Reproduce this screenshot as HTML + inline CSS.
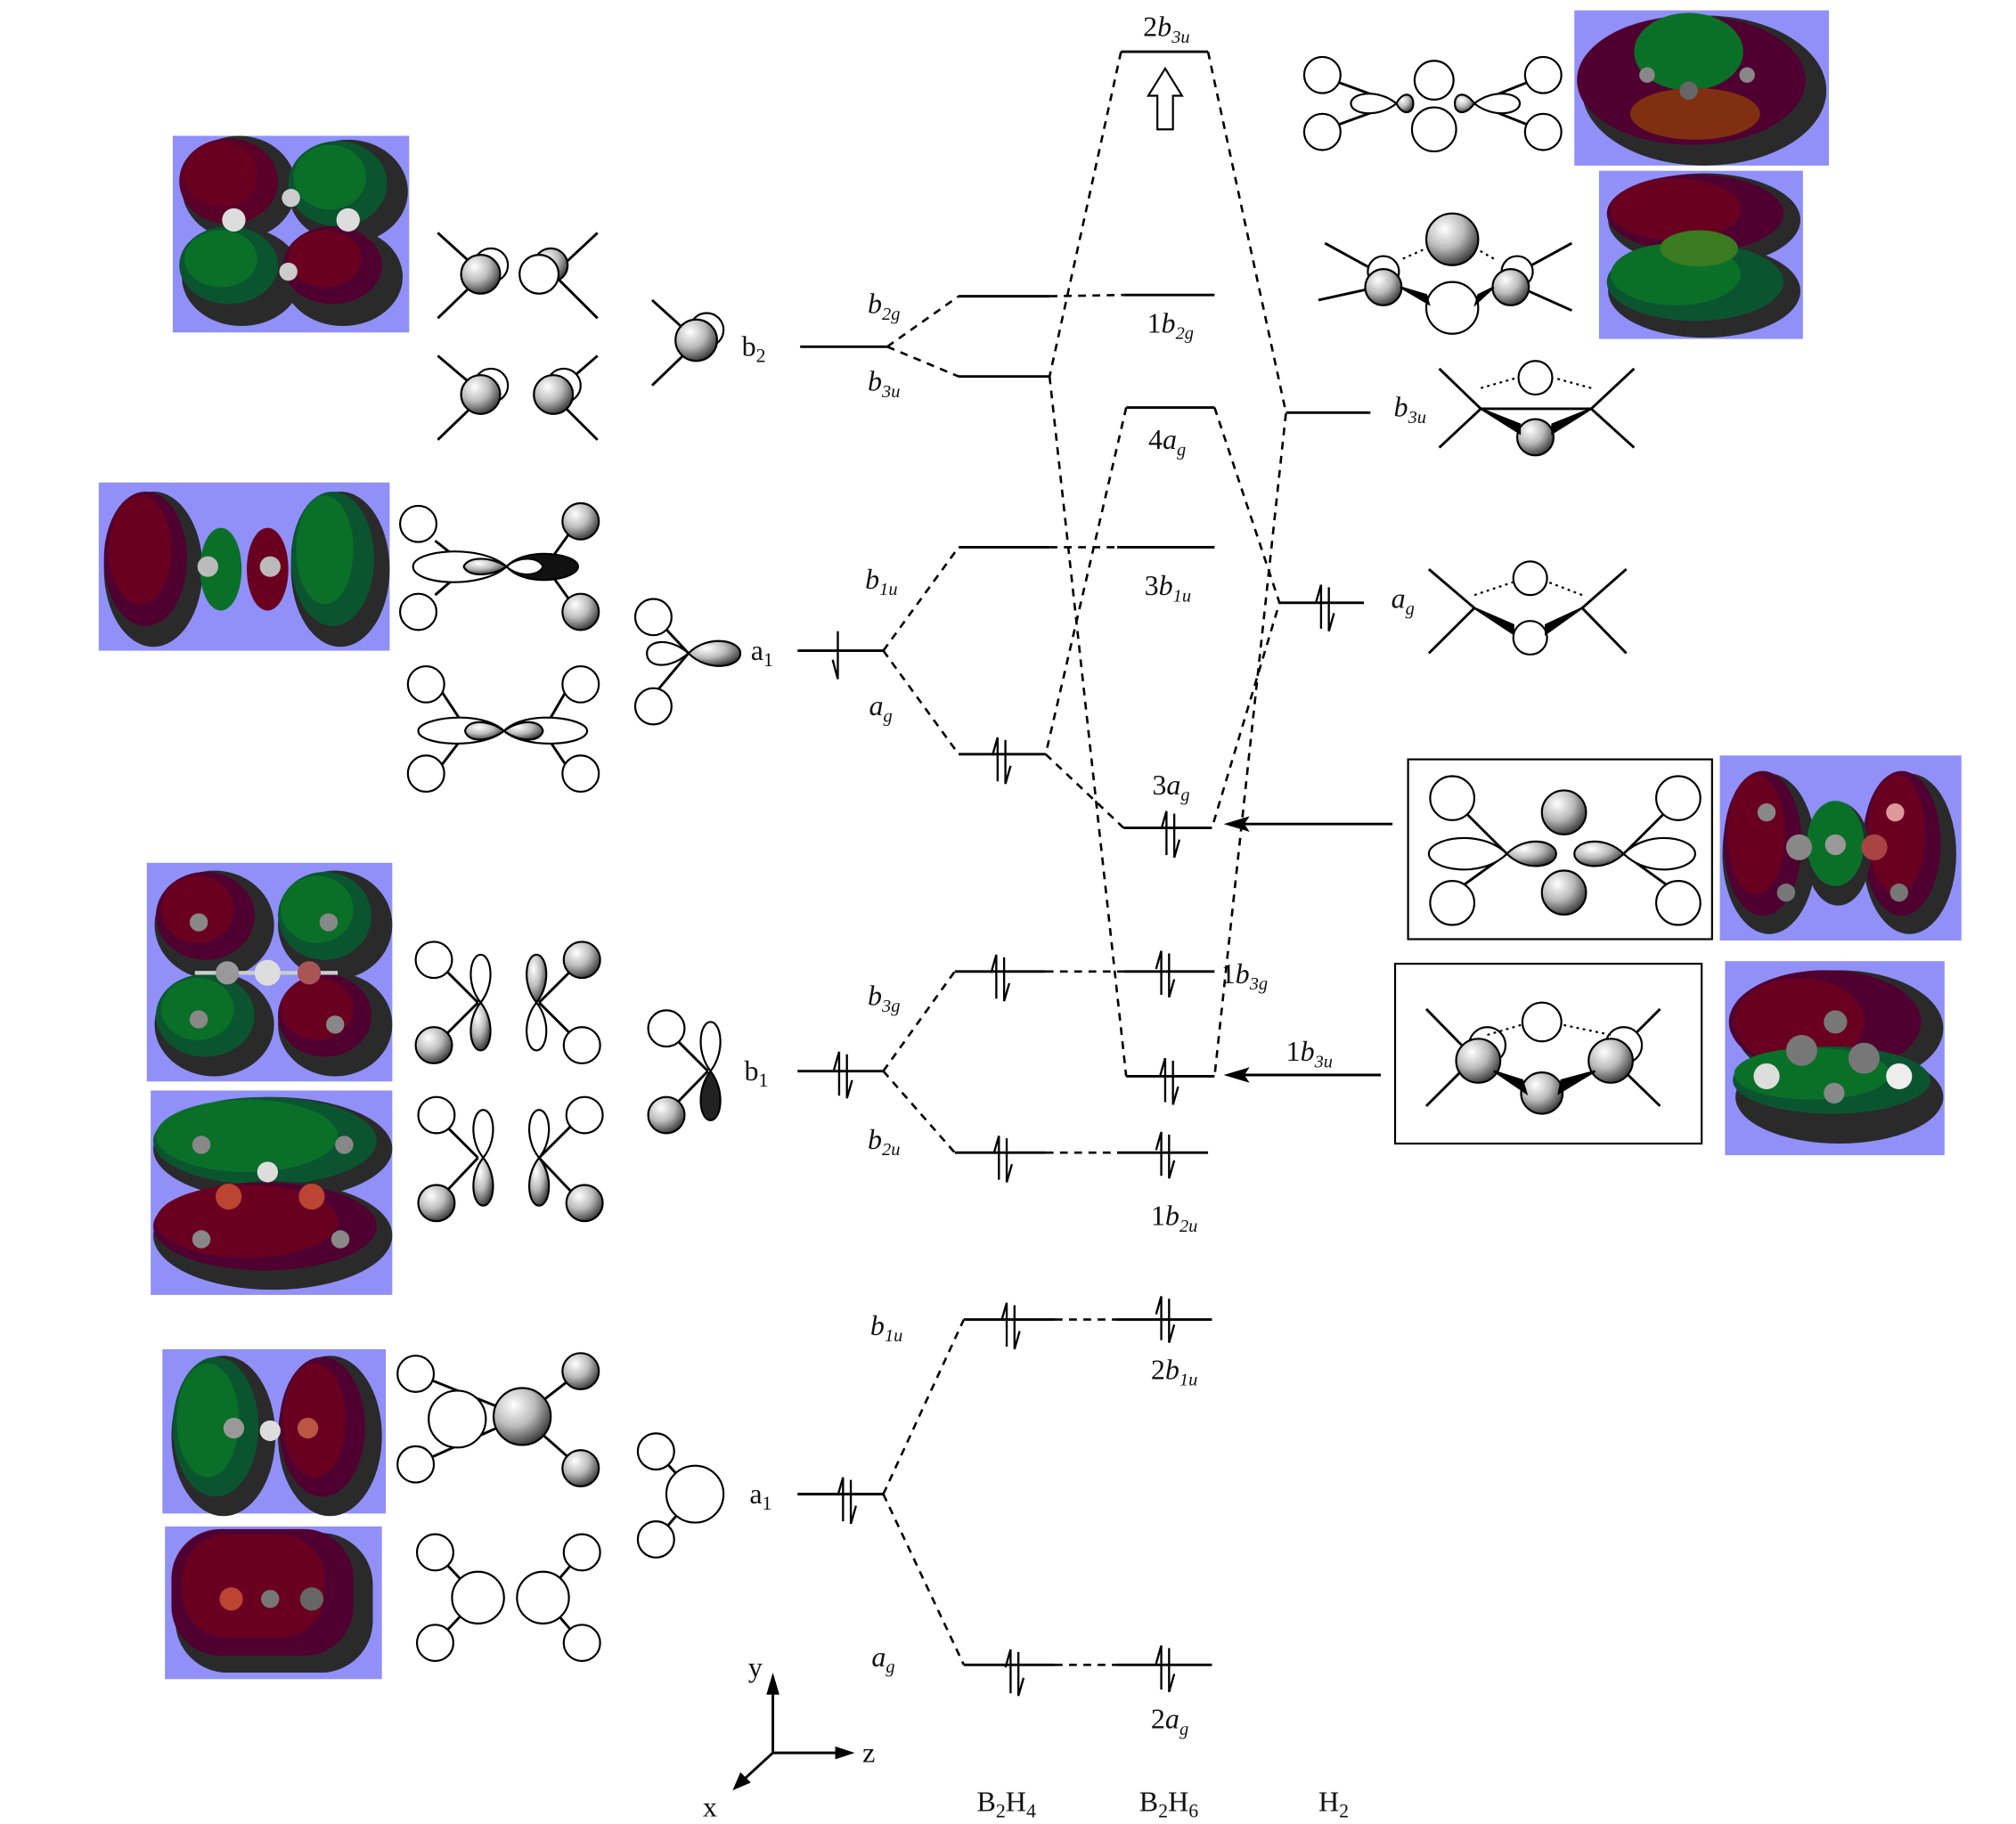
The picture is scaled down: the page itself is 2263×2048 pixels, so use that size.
<!DOCTYPE html>
<html><head><meta charset="utf-8"><style>
html,body{margin:0;padding:0;background:#fff}
svg{display:block}
text{font-family:"Liberation Serif",serif;fill:#111}
.it{font-style:italic}
</style></head><body>
<svg width="2263" height="2048" viewBox="0 0 1552 1410" preserveAspectRatio="none" xmlns="http://www.w3.org/2000/svg">
<defs>
<radialGradient id="sph" cx="35%" cy="30%" r="75%"><stop offset="0" stop-color="#fff"/><stop offset="0.5" stop-color="#bbb"/><stop offset="1" stop-color="#333"/></radialGradient>
<g id="ep">
<path d="M-3,16 V-18 M-3,-18 L-7,-4" stroke="#000" stroke-width="1.6" fill="none"/>
<path d="M3,-16 V18 M3,18 L7,4" stroke="#000" stroke-width="1.6" fill="none"/>
</g>
</defs>
<rect width="1552" height="1410" fill="#fff"/>

<!-- ===== blue MO pictures ===== -->
<g>
<!-- box1 -->
<rect x="133" y="105" width="182" height="152" fill="#9090f8"/>
<ellipse cx="184" cy="145" rx="44" ry="40" fill="#2a2a2a"/><ellipse cx="176" cy="140" rx="38" ry="33" fill="#5a0028"/><ellipse cx="170" cy="135" rx="28" ry="25" fill="#6a0020"/>
<ellipse cx="268" cy="148" rx="46" ry="40" fill="#2a2a2a"/><ellipse cx="260" cy="142" rx="38" ry="33" fill="#0a5530"/><ellipse cx="254" cy="137" rx="28" ry="25" fill="#0a7028"/>
<ellipse cx="186" cy="214" rx="46" ry="38" fill="#2a2a2a"/><ellipse cx="176" cy="205" rx="38" ry="30" fill="#0a5530"/><ellipse cx="170" cy="200" rx="28" ry="22" fill="#0a7028"/>
<ellipse cx="264" cy="214" rx="46" ry="38" fill="#2a2a2a"/><ellipse cx="256" cy="205" rx="38" ry="30" fill="#500030"/><ellipse cx="250" cy="200" rx="28" ry="22" fill="#6a0020"/>
<circle cx="180" cy="170" r="9" fill="#ddd"/><circle cx="268" cy="170" r="9" fill="#ddd"/><circle cx="224" cy="153" r="7" fill="#ccc"/><circle cx="222" cy="210" r="7" fill="#ccc"/>
</g>
<g>
<!-- box2 -->
<rect x="76" y="373" width="224" height="130" fill="#9090f8"/>
<ellipse cx="118" cy="440" rx="38" ry="60" fill="#2a2a2a"/><ellipse cx="112" cy="432" rx="32" ry="52" fill="#500030"/><ellipse cx="108" cy="425" rx="24" ry="42" fill="#6a0020"/>
<ellipse cx="262" cy="440" rx="38" ry="60" fill="#2a2a2a"/><ellipse cx="256" cy="432" rx="32" ry="52" fill="#0a5530"/><ellipse cx="250" cy="425" rx="22" ry="42" fill="#0a7028"/>
<ellipse cx="170" cy="440" rx="16" ry="32" fill="#0a7028"/><ellipse cx="206" cy="440" rx="16" ry="32" fill="#6a0020"/>
<circle cx="160" cy="438" r="8" fill="#bbb"/><circle cx="208" cy="438" r="8" fill="#bbb"/>
</g>
<g>
<!-- box3 -->
<rect x="113" y="667" width="189" height="169" fill="#9090f8"/>
<ellipse cx="165" cy="715" rx="46" ry="42" fill="#2a2a2a"/><ellipse cx="158" cy="708" rx="38" ry="34" fill="#500030"/><ellipse cx="152" cy="703" rx="28" ry="26" fill="#6a0020"/>
<ellipse cx="258" cy="715" rx="44" ry="42" fill="#2a2a2a"/><ellipse cx="250" cy="708" rx="36" ry="34" fill="#0a5530"/><ellipse cx="244" cy="703" rx="28" ry="26" fill="#0a7028"/>
<ellipse cx="165" cy="792" rx="46" ry="40" fill="#2a2a2a"/><ellipse cx="158" cy="785" rx="38" ry="32" fill="#0a5530"/><ellipse cx="152" cy="780" rx="28" ry="24" fill="#0a7028"/>
<ellipse cx="258" cy="792" rx="44" ry="40" fill="#2a2a2a"/><ellipse cx="250" cy="785" rx="36" ry="32" fill="#500030"/><ellipse cx="244" cy="780" rx="28" ry="24" fill="#6a0020"/>
<line x1="150" y1="752" x2="260" y2="752" stroke="#ccc" stroke-width="3"/>
<circle cx="206" cy="752" r="10" fill="#ddd"/><circle cx="175" cy="752" r="9" fill="#999"/><circle cx="238" cy="752" r="9" fill="#a55"/>
<circle cx="153" cy="713" r="7" fill="#888"/><circle cx="253" cy="713" r="7" fill="#888"/><circle cx="153" cy="788" r="7" fill="#888"/><circle cx="258" cy="792" r="7" fill="#888"/>
</g>
<g>
<!-- box4 -->
<rect x="116" y="843" width="186" height="158" fill="#9090f8"/>
<ellipse cx="210" cy="888" rx="92" ry="40" fill="#2a2a2a"/><ellipse cx="204" cy="882" rx="86" ry="34" fill="#0a5530"/><ellipse cx="190" cy="878" rx="70" ry="28" fill="#0a7028"/>
<ellipse cx="210" cy="955" rx="92" ry="42" fill="#2a2a2a"/><ellipse cx="204" cy="948" rx="86" ry="34" fill="#500030"/><ellipse cx="190" cy="944" rx="70" ry="28" fill="#6a0020"/>
<circle cx="176" cy="925" r="10" fill="#b43"/><circle cx="240" cy="925" r="10" fill="#b43"/><circle cx="206" cy="906" r="8" fill="#ddd"/>
<circle cx="155" cy="885" r="7" fill="#888"/><circle cx="265" cy="885" r="7" fill="#888"/><circle cx="155" cy="958" r="7" fill="#888"/><circle cx="262" cy="958" r="7" fill="#888"/>
</g>
<g>
<!-- box5 -->
<rect x="125" y="1043" width="172" height="127" fill="#9090f8"/>
<ellipse cx="172" cy="1110" rx="40" ry="62" fill="#2a2a2a"/><ellipse cx="166" cy="1103" rx="33" ry="54" fill="#0a5530"/><ellipse cx="160" cy="1098" rx="24" ry="44" fill="#0a7028"/>
<ellipse cx="254" cy="1110" rx="40" ry="62" fill="#2a2a2a"/><ellipse cx="248" cy="1103" rx="33" ry="54" fill="#500030"/><ellipse cx="242" cy="1098" rx="24" ry="44" fill="#6a0020"/>
<circle cx="208" cy="1106" r="8" fill="#ddd"/><circle cx="180" cy="1104" r="8" fill="#999"/><circle cx="237" cy="1104" r="8" fill="#b54"/>
</g>
<g>
<!-- box6 -->
<rect x="127" y="1180" width="167" height="118" fill="#9090f8"/>
<rect x="135" y="1185" width="152" height="108" rx="40" fill="#2a2a2a"/>
<rect x="132" y="1182" width="140" height="98" rx="38" fill="#500030"/>
<rect x="140" y="1186" width="110" height="80" rx="35" fill="#6a0020"/>
<circle cx="178" cy="1236" r="9" fill="#b43"/><circle cx="240" cy="1236" r="9" fill="#666"/><circle cx="208" cy="1236" r="7" fill="#777"/>
</g>
<g>
<!-- box7 top right -->
<rect x="1212" y="8" width="196" height="120" fill="#9090f8"/>
<ellipse cx="1312" cy="70" rx="94" ry="58" fill="#2a2a2a"/>
<ellipse cx="1302" cy="62" rx="88" ry="50" fill="#500030"/>
<ellipse cx="1300" cy="40" rx="42" ry="30" fill="#0a7028"/>
<ellipse cx="1305" cy="88" rx="50" ry="20" fill="#803010"/>
<circle cx="1268" cy="58" r="6" fill="#888"/><circle cx="1345" cy="58" r="6" fill="#888"/><circle cx="1300" cy="70" r="7" fill="#666"/>
</g>
<g>
<!-- box8 -->
<rect x="1231" y="132" width="157" height="130" fill="#9090f8"/>
<ellipse cx="1312" cy="170" rx="74" ry="36" fill="#2a2a2a"/><ellipse cx="1305" cy="165" rx="68" ry="30" fill="#500030"/><ellipse cx="1290" cy="162" rx="50" ry="24" fill="#6a0020"/>
<ellipse cx="1312" cy="225" rx="74" ry="36" fill="#2a2a2a"/><ellipse cx="1305" cy="218" rx="68" ry="30" fill="#0a5530"/><ellipse cx="1290" cy="212" rx="50" ry="24" fill="#0a7028"/>
<ellipse cx="1308" cy="192" rx="30" ry="14" fill="#3a7a20"/>
</g>
<g>
<!-- box9 -->
<rect x="1324" y="584" width="186" height="143" fill="#9090f8"/>
<ellipse cx="1362" cy="660" rx="36" ry="62" fill="#2a2a2a"/><ellipse cx="1357" cy="652" rx="30" ry="56" fill="#500030"/><ellipse cx="1352" cy="645" rx="22" ry="46" fill="#6a0020"/>
<ellipse cx="1470" cy="660" rx="36" ry="62" fill="#2a2a2a"/><ellipse cx="1464" cy="652" rx="30" ry="56" fill="#500030"/><ellipse cx="1460" cy="645" rx="22" ry="46" fill="#6a0020"/>
<ellipse cx="1415" cy="660" rx="25" ry="40" fill="#2a2a2a"/><ellipse cx="1413" cy="652" rx="22" ry="33" fill="#0a7028"/>
<circle cx="1385" cy="655" r="10" fill="#888"/><circle cx="1413" cy="653" r="8" fill="#999"/><circle cx="1443" cy="655" r="10" fill="#a44"/>
<circle cx="1360" cy="628" r="7" fill="#888"/><circle cx="1459" cy="628" r="7" fill="#d99"/><circle cx="1375" cy="690" r="7" fill="#777"/><circle cx="1462" cy="690" r="7" fill="#777"/>
</g>
<g>
<!-- box10 -->
<rect x="1328" y="743" width="169" height="150" fill="#9090f8"/>
<ellipse cx="1416" cy="795" rx="80" ry="45" fill="#2a2a2a"/><ellipse cx="1405" cy="790" rx="74" ry="40" fill="#500030"/><ellipse cx="1385" cy="790" rx="50" ry="34" fill="#6a0020"/>
<ellipse cx="1416" cy="848" rx="80" ry="36" fill="#2a2a2a"/><ellipse cx="1410" cy="835" rx="76" ry="26" fill="#0a5530"/><ellipse cx="1395" cy="830" rx="60" ry="20" fill="#0a7028"/>
<circle cx="1387" cy="812" r="12" fill="#777"/><circle cx="1435" cy="818" r="12" fill="#777"/><circle cx="1413" cy="790" r="9" fill="#777"/>
<circle cx="1360" cy="832" r="10" fill="#ddd"/><circle cx="1462" cy="832" r="10" fill="#eee"/><circle cx="1412" cy="845" r="8" fill="#888"/>
</g>

<!-- ===== line drawings (left column) ===== -->
<g stroke="#000" stroke-width="2" fill="none">
<!-- b2 quad -->
<path d="M337,180 L370,210 M337,246 L370,214 M460,180 L428,210 M460,246 L428,214"/>
<path d="M337,275 L370,303 M337,340 L370,308 M460,275 L428,303 M460,340 L428,308"/>
<path d="M502,232 L535,262 M502,298 L535,266"/>
</g>
<g stroke="#000" stroke-width="1.5">
<circle cx="378" cy="205" r="13" fill="#fff"/><circle cx="370" cy="212" r="15" fill="url(#sph)"/>
<circle cx="424" cy="205" r="13" fill="url(#sph)"/><circle cx="415" cy="212" r="15" fill="#fff"/>
<circle cx="378" cy="298" r="13" fill="#fff"/><circle cx="370" cy="305" r="15" fill="url(#sph)"/>
<circle cx="434" cy="298" r="13" fill="#fff"/><circle cx="426" cy="305" r="15" fill="url(#sph)"/>
<circle cx="544" cy="255" r="13" fill="#fff"/><circle cx="536" cy="263" r="16" fill="url(#sph)"/>
</g>
<!-- a1 set -->
<g stroke="#000" stroke-width="2" fill="none">
<path d="M335,418 L360,438 M335,460 L360,438 M440,410 L420,438 M440,466 L420,438"/>
<path d="M335,527 L360,565 M335,598 L360,565 M440,527 L418,565 M440,598 L418,565"/>
<path d="M505,478 L530,505 M505,535 L530,505"/>
</g>
<g stroke="#000" stroke-width="1.5" fill="#fff">
<circle cx="322" cy="405" r="14"/><circle cx="322" cy="473" r="14"/>
<circle cx="447" cy="403" r="14" fill="url(#sph)"/><circle cx="447" cy="473" r="14" fill="url(#sph)"/>
<path d="M390,438 C370,420 318,425 318,438 C318,452 370,456 390,438Z"/>
<path d="M390,438 C405,422 445,428 445,438 C445,448 405,455 390,438Z" fill="#111"/>
<path d="M390,438 C378,430 360,430 357,438 C360,446 378,446 390,438Z" fill="url(#sph)"/>
<path d="M390,438 C398,430 415,430 418,438 C415,446 398,446 390,438Z" fill="#fff"/>
<circle cx="328" cy="529" r="14"/><circle cx="328" cy="598" r="14"/><circle cx="447" cy="529" r="14"/><circle cx="447" cy="598" r="14"/>
<path d="M388,565 C370,548 322,555 322,565 C322,576 370,580 388,565Z"/>
<path d="M388,565 C405,548 452,555 452,565 C452,576 405,580 388,565Z"/>
<path d="M388,565 C376,556 360,556 358,565 C360,574 376,574 388,565Z" fill="url(#sph)"/>
<path d="M388,565 C400,556 416,556 418,565 C416,574 400,574 388,565Z" fill="url(#sph)"/>
<circle cx="503" cy="477" r="14"/><circle cx="503" cy="546" r="14"/>
<path d="M530,505 C515,492 498,495 498,505 C498,516 515,518 530,505Z"/>
<path d="M530,505 C545,490 570,495 570,505 C570,516 545,520 530,505Z" fill="url(#sph)"/>
</g>
<!-- b1 set -->
<g stroke="#000" stroke-width="2" fill="none">
<path d="M335,742 L368,775 M335,808 L368,775 M448,742 L415,775 M448,808 L415,775"/>
<path d="M335,862 L368,895 M335,930 L368,895 M448,862 L415,895 M448,930 L415,895"/>
<path d="M512,795 L545,828 M512,862 L545,828"/>
</g>
<g stroke="#000" stroke-width="1.5" fill="#fff">
<circle cx="334" cy="742" r="14"/><circle cx="334" cy="808" r="14" fill="url(#sph)"/>
<circle cx="448" cy="742" r="14" fill="url(#sph)"/><circle cx="448" cy="808" r="14"/>
<path d="M370,775 C358,760 362,738 370,738 C378,738 382,760 370,775Z"/>
<path d="M370,775 C358,790 362,812 370,812 C378,812 382,790 370,775Z" fill="url(#sph)"/>
<path d="M413,775 C401,760 405,738 413,738 C421,738 425,760 413,775Z" fill="url(#sph)"/>
<path d="M413,775 C401,790 405,812 413,812 C421,812 425,790 413,775Z"/>
<circle cx="336" cy="862" r="14"/><circle cx="336" cy="930" r="14" fill="url(#sph)"/>
<circle cx="450" cy="862" r="14"/><circle cx="450" cy="930" r="14" fill="url(#sph)"/>
<path d="M372,895 C360,880 364,858 372,858 C380,858 384,880 372,895Z"/>
<path d="M372,895 C360,910 364,932 372,932 C380,932 384,910 372,895Z" fill="url(#sph)"/>
<path d="M415,895 C403,880 407,858 415,858 C423,858 427,880 415,895Z"/>
<path d="M415,895 C403,910 407,932 415,932 C423,932 427,910 415,895Z" fill="url(#sph)"/>
<circle cx="513" cy="795" r="14"/><circle cx="513" cy="862" r="14" fill="url(#sph)"/>
<path d="M547,828 C535,812 539,790 547,790 C555,790 559,812 547,828Z"/>
<path d="M547,828 C535,844 539,866 547,866 C555,866 559,844 547,828Z" fill="#222"/>
</g>
<!-- lower a1 set -->
<g stroke="#000" stroke-width="2" fill="none">
<path d="M320,1062 L402,1095 M320,1132 L402,1095 M447,1060 L402,1095 M447,1135 L402,1095"/>
<path d="M335,1200 L368,1235 M335,1270 L368,1235 M448,1200 L418,1235 M448,1270 L418,1235"/>
<path d="M505,1122 L535,1155 M505,1190 L535,1155"/>
</g>
<g stroke="#000" stroke-width="1.5" fill="#fff">
<circle cx="320" cy="1062" r="14"/><circle cx="320" cy="1132" r="14"/>
<circle cx="352" cy="1097" r="22"/>
<circle cx="447" cy="1060" r="14" fill="url(#sph)"/><circle cx="447" cy="1135" r="14" fill="url(#sph)"/>
<circle cx="402" cy="1095" r="22" fill="url(#sph)"/>
<circle cx="335" cy="1200" r="14"/><circle cx="335" cy="1270" r="14"/><circle cx="448" cy="1200" r="14"/><circle cx="448" cy="1270" r="14"/>
<circle cx="368" cy="1235" r="20"/><circle cx="418" cy="1235" r="20"/>
<circle cx="505" cy="1122" r="14"/><circle cx="505" cy="1190" r="14"/><circle cx="535" cy="1155" r="22"/>
</g>

<!-- ===== right line drawings ===== -->
<g stroke="#000" stroke-width="2" fill="none">
<path d="M1015,58 L1075,80 M1015,102 L1075,80 M1190,58 L1135,80 M1190,102 L1135,80"/>
<path d="M1020,188 L1060,210 M1015,232 L1060,222 M1210,188 L1170,210 M1210,240 L1170,222"/>
<path d="M1108,285 L1140,316 L1108,346 M1258,285 L1225,316 L1258,346 M1140,316 L1225,316"/>
<path d="M1100,440 L1135,470 L1100,505 M1252,440 L1218,470 L1252,505"/>
<path d="M1098,780 L1135,818 L1098,855 M1278,780 L1240,818 L1278,855"/>
<path d="M1105,605 L1160,660 M1105,700 L1160,660 M1305,605 L1250,660 M1305,700 L1250,660"/>
</g>
<g stroke="#000" stroke-width="1.5" fill="#fff">
<circle cx="1018" cy="58" r="14"/><circle cx="1018" cy="102" r="14"/><circle cx="1188" cy="58" r="14"/><circle cx="1188" cy="102" r="14"/>
<circle cx="1104" cy="62" r="15"/><circle cx="1104" cy="100" r="17"/>
<path d="M1075,80 C1060,68 1040,72 1040,80 C1040,88 1060,92 1075,80Z"/>
<path d="M1075,80 C1080,70 1088,72 1088,80 C1088,88 1080,90 1075,80Z" fill="url(#sph)"/>
<path d="M1135,80 C1150,68 1170,72 1170,80 C1170,88 1150,92 1135,80Z"/>
<path d="M1135,80 C1128,70 1120,72 1120,80 C1120,88 1128,90 1135,80Z" fill="url(#sph)"/>
<circle cx="1118" cy="185" r="20" fill="url(#sph)"/><circle cx="1118" cy="238" r="20"/>
<circle cx="1065" cy="210" r="12"/><circle cx="1065" cy="222" r="14" fill="url(#sph)"/>
<circle cx="1168" cy="210" r="12"/><circle cx="1163" cy="222" r="14" fill="url(#sph)"/>
<path d="M1078,222 L1100,235 L1098,228Z" fill="#000"/><path d="M1150,222 L1136,235 L1138,228Z" fill="#000"/>
<circle cx="1182" cy="292" r="13"/><circle cx="1182" cy="338" r="14" fill="url(#sph)"/>
<path d="M1140,316 L1170,335 L1170,328Z M1225,316 L1195,335 L1195,328Z" fill="#000"/>
<circle cx="1178" cy="447" r="13"/><circle cx="1178" cy="493" r="13"/>
<path d="M1135,470 L1165,490 L1165,483Z M1218,470 L1190,490 L1190,483Z" fill="#000"/>
<circle cx="1187" cy="790" r="15"/><circle cx="1187" cy="845" r="16" fill="url(#sph)"/>
<circle cx="1145" cy="808" r="14"/><circle cx="1138" cy="820" r="17" fill="url(#sph)"/>
<circle cx="1250" cy="808" r="14"/><circle cx="1240" cy="820" r="17" fill="url(#sph)"/>
<path d="M1150,828 L1175,845 L1172,835Z M1228,828 L1200,845 L1202,835Z" fill="#000"/>
<circle cx="1118" cy="617" r="17"/><circle cx="1118" cy="698" r="17"/><circle cx="1292" cy="617" r="17"/><circle cx="1292" cy="698" r="17"/>
<circle cx="1204" cy="628" r="17" fill="url(#sph)"/><circle cx="1204" cy="690" r="17" fill="url(#sph)"/>
<path d="M1160,660 C1140,640 1100,648 1100,660 C1100,672 1140,680 1160,660Z"/>
<path d="M1250,660 C1270,640 1305,648 1305,660 C1305,672 1270,680 1250,660Z"/>
<path d="M1160,660 C1175,645 1198,650 1198,660 C1198,670 1175,675 1160,660Z" fill="url(#sph)"/>
<path d="M1250,660 C1235,645 1212,650 1212,660 C1212,670 1235,675 1250,660Z" fill="url(#sph)"/>
</g>
<g stroke="#000" stroke-width="1.5" stroke-dasharray="2,3" fill="none">
<path d="M1140,300 L1168,292 M1225,300 L1196,292 M1135,460 L1165,450 M1218,460 L1192,450 M1145,800 L1172,792 M1240,800 L1202,792 M1080,200 L1098,192 M1150,200 L1136,192"/>
</g>
<rect x="1084" y="587" width="234" height="139" fill="none" stroke="#000" stroke-width="1.5"/>
<rect x="1074" y="745" width="236" height="139" fill="none" stroke="#000" stroke-width="1.5"/>

<!-- ===== energy levels ===== -->
<g stroke="#000" stroke-width="2" fill="none">
<path d="M616,268 H683"/><path d="M738,229 H808"/><path d="M738,291 H808"/><path d="M865,228 H935"/>
<path d="M863,40 H930"/><path d="M990,319 H1055"/><path d="M867,315 H935"/>
<path d="M614,503 H680"/><path d="M738,423 H808"/><path d="M860,423 H935"/><path d="M738,583 H805"/><path d="M865,640 H933"/>
<path d="M985,466 H1050"/>
<path d="M614,828 H680"/><path d="M735,751 H805"/><path d="M865,751 H935"/><path d="M735,891 H805"/><path d="M860,891 H930"/><path d="M867,832 H935"/>
<path d="M614,1155 H680"/><path d="M742,1020 H812"/><path d="M860,1020 H933"/><path d="M742,1287 H812"/><path d="M860,1287 H933"/>
<path d="M1072,637 H950"/><path d="M1063,831 H950"/>
</g>
<path d="M942,637 L962,631 L958,637 L962,643Z" fill="#000"/>
<path d="M942,831 L962,825 L958,831 L962,837Z" fill="#000"/>
<g stroke="#000" stroke-width="1.8" stroke-dasharray="6,5" fill="none">
<path d="M683,268 L738,229 M683,268 L738,291 M808,229 L865,228"/>
<path d="M863,40 L808,291 M808,291 L867,832 M930,40 L990,319 L935,832"/>
<path d="M867,315 L805,583 M935,315 L985,466 L933,640"/>
<path d="M680,503 L738,423 M680,503 L738,583 M808,423 L860,423 M805,583 L865,640"/>
<path d="M680,828 L735,751 M680,828 L735,891 M805,751 L865,751 M805,891 L860,891"/>
<path d="M680,1155 L742,1020 M680,1155 L742,1287 M812,1020 L860,1020 M812,1287 L860,1287"/>
</g>
<!-- hollow arrow -->
<path d="M897,53 L910,74 L903,74 L903,100 L891,100 L891,74 L884,74Z" fill="#fff" stroke="#000" stroke-width="1.5"/>
<!-- single electron a1 -->
<path d="M645,488 V525 M645,525 L641,510" stroke="#000" stroke-width="1.6" fill="none"/>
<use href="#ep" x="771" y="588"/><use href="#ep" x="901" y="645"/>
<use href="#ep" x="1020" y="470"/>
<use href="#ep" x="649" y="831"/><use href="#ep" x="770" y="756"/><use href="#ep" x="897" y="753"/>
<use href="#ep" x="772" y="896"/><use href="#ep" x="900" y="836"/><use href="#ep" x="897" y="893"/>
<use href="#ep" x="652" y="1160"/><use href="#ep" x="778" y="1025"/><use href="#ep" x="897" y="1020"/>
<use href="#ep" x="781" y="1293"/><use href="#ep" x="897" y="1290"/>

<!-- ===== labels ===== -->
<g font-size="22">
<text x="571" y="275">b<tspan font-size="15" dy="5">2</tspan></text>
<text x="578" y="510">a<tspan font-size="15" dy="5">1</tspan></text>
<text x="573" y="835">b<tspan font-size="15" dy="5">1</tspan></text>
<text x="577" y="1162">a<tspan font-size="15" dy="5">1</tspan></text>
</g>
<g font-size="22" class="it">
<text x="668" y="242" class="it">b<tspan font-size="14" dy="5">2g</tspan></text>
<text x="668" y="302" class="it">b<tspan font-size="14" dy="5">3u</tspan></text>
<text x="666" y="455" class="it">b<tspan font-size="14" dy="5">1u</tspan></text>
<text x="669" y="553" class="it">a<tspan font-size="14" dy="5">g</tspan></text>
<text x="668" y="777" class="it">b<tspan font-size="14" dy="5">3g</tspan></text>
<text x="668" y="888" class="it">b<tspan font-size="14" dy="5">2u</tspan></text>
<text x="670" y="1032" class="it">b<tspan font-size="14" dy="5">1u</tspan></text>
<text x="671" y="1288" class="it">a<tspan font-size="14" dy="5">g</tspan></text>
<text x="880" y="28" class="it"><tspan font-style="normal">2</tspan>b<tspan font-size="14" dy="5">3u</tspan></text>
<text x="883" y="257" class="it"><tspan font-style="normal">1</tspan>b<tspan font-size="14" dy="5">2g</tspan></text>
<text x="884" y="347" class="it"><tspan font-style="normal">4</tspan>a<tspan font-size="14" dy="5">g</tspan></text>
<text x="881" y="460" class="it"><tspan font-style="normal">3</tspan>b<tspan font-size="14" dy="5">1u</tspan></text>
<text x="887" y="614" class="it"><tspan font-style="normal">3</tspan>a<tspan font-size="14" dy="5">g</tspan></text>
<text x="940" y="760" class="it"><tspan font-style="normal">1</tspan>b<tspan font-size="14" dy="5">3g</tspan></text>
<text x="990" y="820" class="it"><tspan font-style="normal">1</tspan>b<tspan font-size="14" dy="5">3u</tspan></text>
<text x="886" y="947" class="it"><tspan font-style="normal">1</tspan>b<tspan font-size="14" dy="5">2u</tspan></text>
<text x="886" y="1066" class="it"><tspan font-style="normal">2</tspan>b<tspan font-size="14" dy="5">1u</tspan></text>
<text x="886" y="1336" class="it"><tspan font-style="normal">2</tspan>a<tspan font-size="14" dy="5">g</tspan></text>
<text x="1073" y="322" class="it">b<tspan font-size="14" dy="5">3u</tspan></text>
<text x="1071" y="470" class="it">a<tspan font-size="14" dy="5">g</tspan></text>
</g>
<g font-size="22">
<text x="752" y="1400">B<tspan font-size="15" dy="5">2</tspan><tspan dy="-5">H</tspan><tspan font-size="15" dy="5">4</tspan></text>
<text x="877" y="1400">B<tspan font-size="15" dy="5">2</tspan><tspan dy="-5">H</tspan><tspan font-size="15" dy="5">6</tspan></text>
<text x="1015" y="1400">H<tspan font-size="15" dy="5">2</tspan></text>
<text x="576" y="1296">y</text><text x="664" y="1362">z</text><text x="541" y="1404">x</text>
</g>
<g stroke="#000" stroke-width="2" fill="none"><path d="M595,1355 V1302 M595,1355 H650 M595,1355 L570,1378"/></g>
<path d="M595,1293 L590,1310 L600,1310Z M658,1355 L643,1350 L643,1360Z M564,1384 L570,1370 L578,1378Z" fill="#000"/>
</svg>
</body></html>
